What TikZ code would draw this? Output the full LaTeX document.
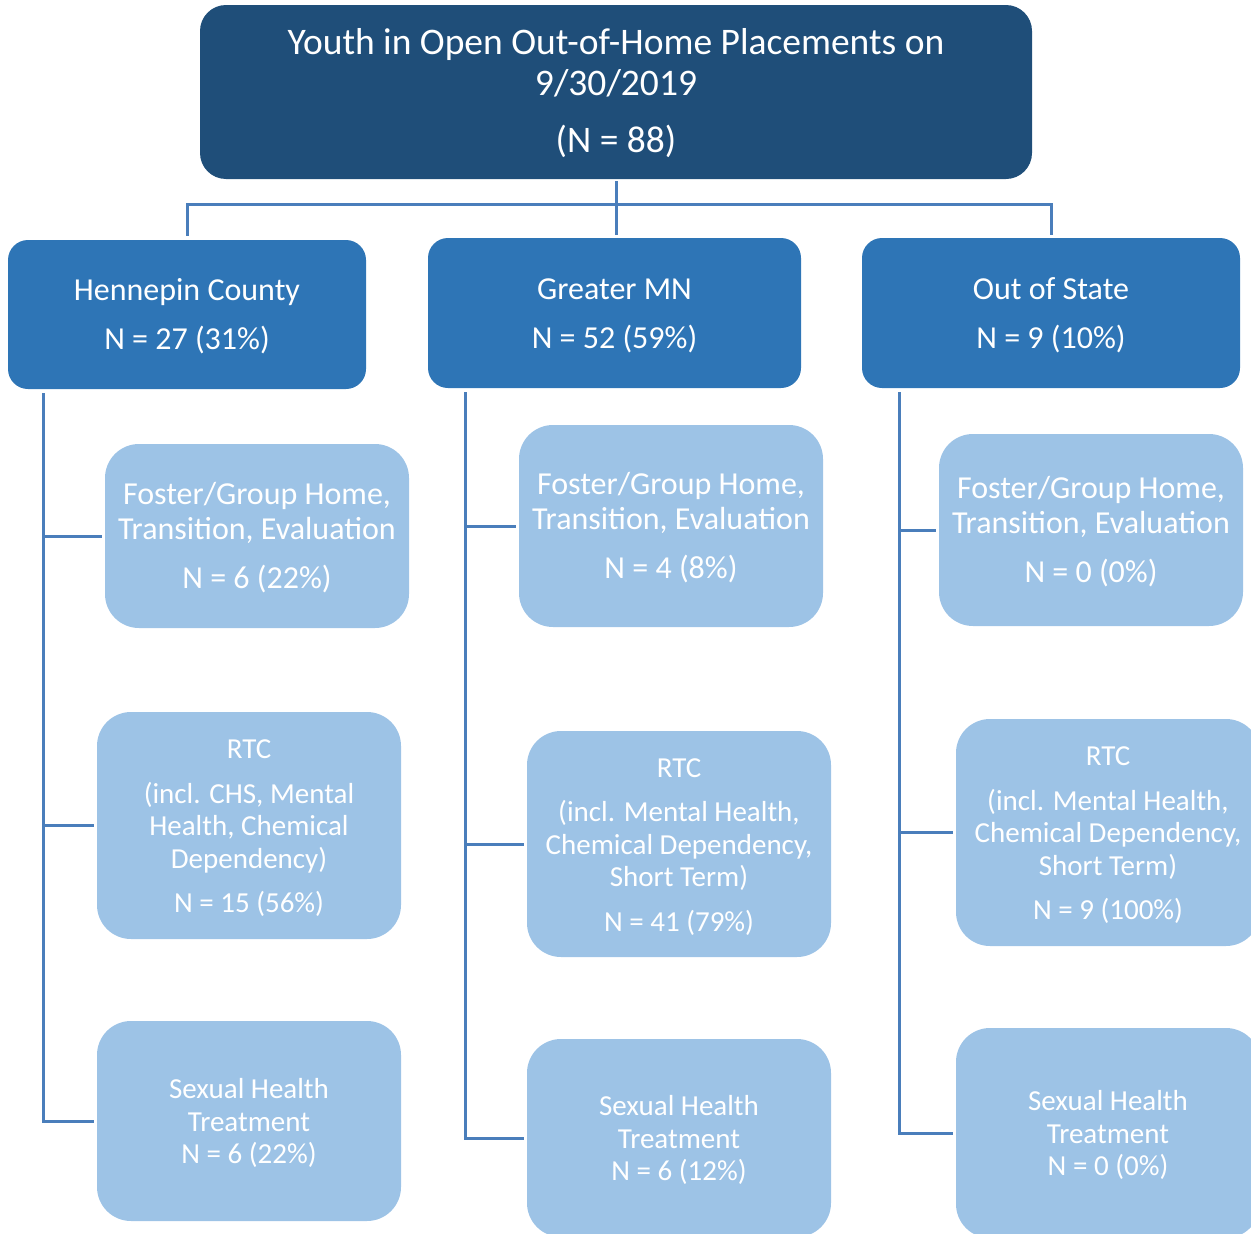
\documentclass[tikz,border=0pt]{standalone}
\usepackage{fontspec}
\setmainfont{Carlito}
\definecolor{topc}{HTML}{1F4E79}
\definecolor{midc}{HTML}{2E75B6}
\definecolor{lowc}{HTML}{9DC3E6}
\definecolor{linec}{HTML}{4A7EBB}
% text block, padded on top so that it sits slightly lower in its box
\newcommand{\btxt}[2][7pt]{\raisebox{0pt}[\dimexpr\height+#1\relax]{\begin{tabular}{@{}c@{}}#2\end{tabular}}}
\tikzset{
  topbox/.style={fill=topc, rounded corners=26pt, text=white, inner sep=0pt,
    font=\fontsize{37.5}{41}\selectfont},
  midbox/.style={fill=midc, rounded corners=20pt, text=white, inner sep=0pt,
    font=\fontsize{32}{49}\selectfont},
  lowbox/.style={fill=lowc, rounded corners=34pt, text=white, inner sep=0pt,
    minimum width=304pt, font=\fontsize{32}{35}\selectfont},
  rtcbox/.style={lowbox, font=\fontsize{29}{32.5}\selectfont},
  conn/.style={draw=linec, line width=3pt},
}
\begin{document}
\begin{tikzpicture}[x=1pt,y=-1pt]
\useasboundingbox (0,0) rectangle (1251,1234);
\clip (0,0) rectangle (1251,1234);
% top
\node[topbox, minimum width=832pt, minimum height=174pt] (top) at (616,92)
  {\btxt[6pt]{Youth in Open Out-of-Home Placements on\\9/30/2019\\[16pt](N = 88)}};
% middle level
\node[midbox, minimum width=358pt, minimum height=149pt] (hen) at (187,314.5)
  {\btxt[2pt]{Hennepin County\\N = 27 (31\%)}};
\node[midbox, minimum width=373pt, minimum height=150pt] (gmn) at (614.5,313)
  {\btxt[2pt]{Greater MN\\N = 52 (59\%)}};
\node[midbox, minimum width=378pt, minimum height=150pt] (oos) at (1051,313)
  {\btxt[2pt]{Out of State\\N = 9 (10\%)}};
% Hennepin children
\node[lowbox, minimum height=184pt] (h1) at (257,536)
  {\btxt{Foster/Group Home,\\Transition, Evaluation\\[14pt]N = 6 (22\%)}};
\node[rtcbox, minimum height=227pt] (h2) at (249,825.5)
  {\btxt{RTC\\[12pt](incl. CHS, Mental\\Health, Chemical\\Dependency)\\[12pt]N = 15 (56\%)}};
\node[rtcbox, minimum height=200pt] (h3) at (249,1121)
  {\btxt{Sexual Health\\Treatment\\N = 6 (22\%)}};
% Greater MN children
\node[lowbox, minimum height=202pt] (g1) at (671,526)
  {\btxt{Foster/Group Home,\\Transition, Evaluation\\[14pt]N = 4 (8\%)}};
\node[rtcbox, minimum height=226pt] (g2) at (679,844)
  {\btxt{RTC\\[12pt](incl. Mental Health,\\Chemical Dependency,\\Short Term)\\[12pt]N = 41 (79\%)}};
\node[rtcbox, minimum height=198pt] (g3) at (679,1138)
  {\btxt{Sexual Health\\Treatment\\N = 6 (12\%)}};
% Out of State children
\node[lowbox, minimum height=192pt] (o1) at (1091,530)
  {\btxt{Foster/Group Home,\\Transition, Evaluation\\[14pt]N = 0 (0\%)}};
\node[rtcbox, minimum height=227pt] (o2) at (1108,832.5)
  {\btxt{RTC\\[12pt](incl. Mental Health,\\Chemical Dependency,\\Short Term)\\[12pt]N = 9 (100\%)}};
\node[rtcbox, minimum height=210pt] (o3) at (1108,1133)
  {\btxt{Sexual Health\\Treatment\\N = 0 (0\%)}};
% connectors top
\coordinate (tj) at (616,204.5);
\coordinate (hx) at (43,0);
\coordinate (gx) at (465,0);
\coordinate (ox) at (899,0);
\draw[conn] ([yshift=-2pt]top.south) -- ([yshift=3pt]top.south |- gmn.north);
\draw[conn] (tj) -| ([yshift=4pt]hen.north);
\draw[conn] (tj) -| ([yshift=3pt]oos.north);
% column spines
\draw[conn] ([yshift=-4pt]hen.south -| hx) |- ([xshift=-3pt]h3.west);
\draw[conn] (hx |- h1.west) -- ([xshift=-3pt]h1.west);
\draw[conn] (hx |- h2.west) -- ([xshift=-3pt]h2.west);
\draw[conn] ([yshift=-4pt]gmn.south -| gx) |- ([xshift=-3pt]g3.west);
\draw[conn] (gx |- g1.west) -- ([xshift=-3pt]g1.west);
\draw[conn] (gx |- g2.west) -- ([xshift=-3pt]g2.west);
\draw[conn] ([yshift=-4pt]oos.south -| ox) |- ([xshift=-3pt]o3.west);
\draw[conn] (ox |- o1.west) -- ([xshift=-3pt]o1.west);
\draw[conn] (ox |- o2.west) -- ([xshift=-3pt]o2.west);
\end{tikzpicture}
\end{document}
